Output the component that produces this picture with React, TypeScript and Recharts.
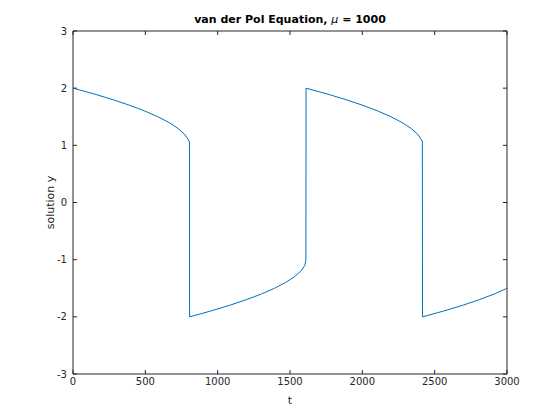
import {
  LineChart,
  Line,
  XAxis,
  YAxis,
  ReferenceLine,
} from "recharts";

// readings taken off the plot: time t and solution y
const tValues = [
  0, 144, 275, 392, 497, 587, 663, 724, 769, 797, 805,
  806, 950, 1081, 1198, 1303, 1393, 1469, 1530, 1575, 1603, 1610,
  1611, 1755, 1886, 2003, 2108, 2198, 2274, 2335, 2380, 2408, 2415,
  2416, 2560, 2691, 2808, 2913, 3000,
];
const yValues = [
  2, 1.9, 1.8, 1.7, 1.6, 1.5, 1.4, 1.3, 1.2, 1.1, 1.06,
  -2, -1.9, -1.8, -1.7, -1.6, -1.5, -1.4, -1.3, -1.2, -1.1, -1.0,
  2, 1.9, 1.8, 1.7, 1.6, 1.5, 1.4, 1.3, 1.2, 1.1, 1.06,
  -2, -1.9, -1.8, -1.7, -1.6, -1.5,
];

const xTicks = [0, 500, 1000, 1500, 2000, 2500, 3000];
const yTicks = [-3, -2, -1, 0, 1, 2, 3];

const data = tValues.map((t, i) => ({ t, y: yValues[i] }));

const axisColor = "#262626";
const font = "'DejaVu Sans', sans-serif";
const xTickLen = 28;
const yTickLen = 0.07;

export default function App() {
  const tickStyle = { fill: axisColor, fontSize: 10, fontFamily: font };

  return (
    <div style={{ position: "absolute", left: 0, top: 0, width: 560, height: 420, background: "#fff" }}>
      <div
        style={{
          position: "absolute",
          left: 73,
          width: 434,
          top: 13,
          textAlign: "center",
          fontFamily: font,
          fontSize: 11,
          fontWeight: "bold",
          color: "#000",
          lineHeight: "14px",
        }}
      >
        van der Pol Equation, <span style={{ fontStyle: "italic", fontWeight: "normal" }}>μ</span> = 1000
      </div>
      <LineChart
        width={560}
        height={420}
        data={data}
        margin={{ top: 31, right: 53, bottom: 0, left: 0 }}
      >
        <XAxis
          dataKey="t"
          type="number"
          domain={[0, 3000]}
          ticks={xTicks}
          allowDataOverflow
          height={46}
          tickSize={0}
          tickMargin={4}
          tick={tickStyle}
          axisLine={{ stroke: axisColor }}
          label={{
            value: "t",
            position: "insideBottom",
            offset: 16,
            style: { fill: axisColor, fontSize: 11, fontFamily: font },
          }}
        />
        <YAxis
          type="number"
          domain={[-3, 3]}
          ticks={yTicks}
          allowDataOverflow
          width={73}
          tickSize={0}
          tickMargin={6}
          tick={tickStyle}
          axisLine={{ stroke: axisColor }}
          label={{
            value: "solution y",
            angle: -90,
            position: "insideLeft",
            offset: 50,
            style: { fill: axisColor, fontSize: 11, fontFamily: font, textAnchor: "middle" },
          }}
        />
        <ReferenceLine y={3} stroke={axisColor} />
        <ReferenceLine x={3000} stroke={axisColor} />
        {xTicks.map((v) => (
          <ReferenceLine
            key={"xb" + v}
            segment={[{ x: v, y: -3 }, { x: v, y: -3 + yTickLen }]}
            stroke={axisColor}
          />
        ))}
        {xTicks.map((v) => (
          <ReferenceLine
            key={"xt" + v}
            segment={[{ x: v, y: 3 }, { x: v, y: 3 - yTickLen }]}
            stroke={axisColor}
          />
        ))}
        {yTicks.map((v) => (
          <ReferenceLine
            key={"yl" + v}
            segment={[{ x: 0, y: v }, { x: xTickLen, y: v }]}
            stroke={axisColor}
          />
        ))}
        {yTicks.map((v) => (
          <ReferenceLine
            key={"yr" + v}
            segment={[{ x: 3000, y: v }, { x: 3000 - xTickLen, y: v }]}
            stroke={axisColor}
          />
        ))}
        <Line
          dataKey="y"
          type="linear"
          stroke="#0072BD"
          strokeWidth={1}
          dot={false}
          isAnimationActive={false}
        />
      </LineChart>
    </div>
  );
}
